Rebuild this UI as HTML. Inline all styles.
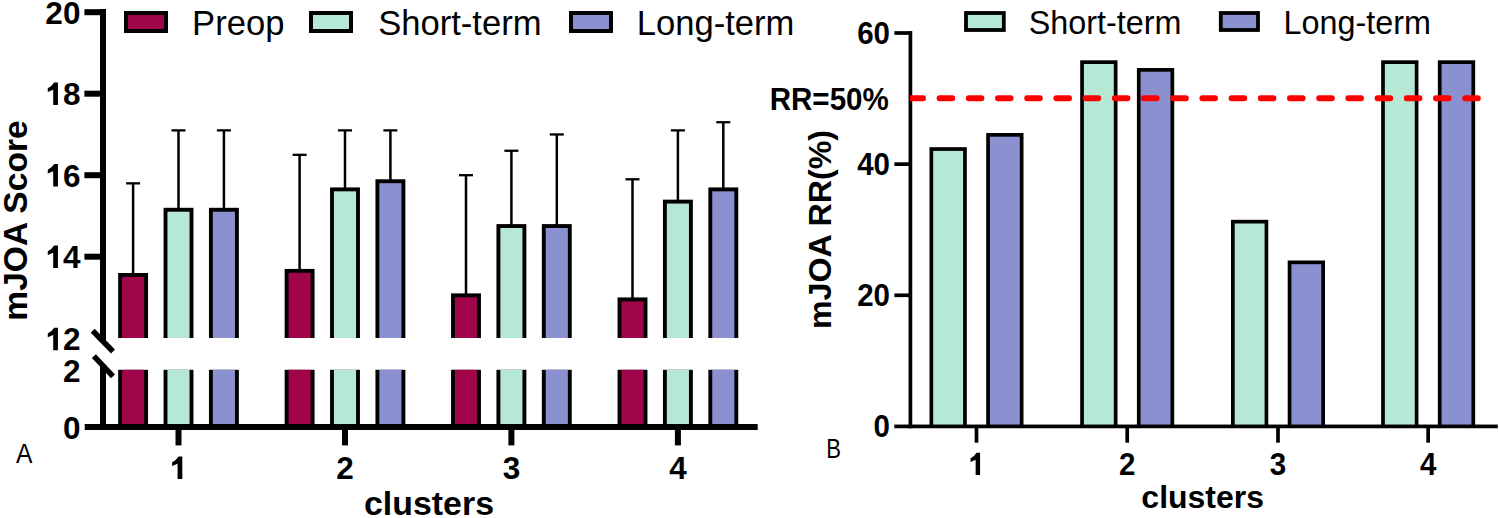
<!DOCTYPE html>
<html><head><meta charset="utf-8"><title>mJOA charts</title>
<style>html,body{margin:0;padding:0;background:#fff;width:1499px;height:518px;overflow:hidden}</style>
</head><body>
<svg width="1499" height="518" viewBox="0 0 1499 518" style="display:block">
<rect width="1499" height="518" fill="#fff"/>
<line x1="133.10" y1="183.35" x2="133.10" y2="275.00" stroke="#000" stroke-width="2.5"/>
<line x1="126.10" y1="183.35" x2="140.10" y2="183.35" stroke="#000" stroke-width="2.3"/>
<rect x="118.15" y="273.00" width="29.90" height="65.00" fill="#000"/>
<rect x="122.05" y="276.90" width="22.10" height="61.10" fill="#A0044B"/>
<rect x="118.15" y="369.80" width="29.90" height="57.40" fill="#000"/>
<rect x="122.05" y="369.80" width="22.10" height="57.40" fill="#A0044B"/>
<line x1="178.50" y1="130.37" x2="178.50" y2="209.80" stroke="#000" stroke-width="2.5"/>
<line x1="171.50" y1="130.37" x2="185.50" y2="130.37" stroke="#000" stroke-width="2.3"/>
<rect x="163.55" y="207.80" width="29.90" height="130.20" fill="#000"/>
<rect x="167.45" y="211.70" width="22.10" height="126.30" fill="#B5E8D5"/>
<rect x="163.55" y="369.80" width="29.90" height="57.40" fill="#000"/>
<rect x="167.45" y="369.80" width="22.10" height="57.40" fill="#B5E8D5"/>
<line x1="223.90" y1="130.37" x2="223.90" y2="209.80" stroke="#000" stroke-width="2.5"/>
<line x1="216.90" y1="130.37" x2="230.90" y2="130.37" stroke="#000" stroke-width="2.3"/>
<rect x="208.95" y="207.80" width="29.90" height="130.20" fill="#000"/>
<rect x="212.85" y="211.70" width="22.10" height="126.30" fill="#8B90D0"/>
<rect x="208.95" y="369.80" width="29.90" height="57.40" fill="#000"/>
<rect x="212.85" y="369.80" width="22.10" height="57.40" fill="#8B90D0"/>
<line x1="299.60" y1="154.82" x2="299.60" y2="270.93" stroke="#000" stroke-width="2.5"/>
<line x1="292.60" y1="154.82" x2="306.60" y2="154.82" stroke="#000" stroke-width="2.3"/>
<rect x="284.65" y="268.93" width="29.90" height="69.07" fill="#000"/>
<rect x="288.55" y="272.82" width="22.10" height="65.17" fill="#A0044B"/>
<rect x="284.65" y="369.80" width="29.90" height="57.40" fill="#000"/>
<rect x="288.55" y="369.80" width="22.10" height="57.40" fill="#A0044B"/>
<line x1="345.00" y1="130.37" x2="345.00" y2="189.43" stroke="#000" stroke-width="2.5"/>
<line x1="338.00" y1="130.37" x2="352.00" y2="130.37" stroke="#000" stroke-width="2.3"/>
<rect x="330.05" y="187.43" width="29.90" height="150.57" fill="#000"/>
<rect x="333.95" y="191.33" width="22.10" height="146.67" fill="#B5E8D5"/>
<rect x="330.05" y="369.80" width="29.90" height="57.40" fill="#000"/>
<rect x="333.95" y="369.80" width="22.10" height="57.40" fill="#B5E8D5"/>
<line x1="390.40" y1="130.37" x2="390.40" y2="181.27" stroke="#000" stroke-width="2.5"/>
<line x1="383.40" y1="130.37" x2="397.40" y2="130.37" stroke="#000" stroke-width="2.3"/>
<rect x="375.45" y="179.27" width="29.90" height="158.73" fill="#000"/>
<rect x="379.35" y="183.17" width="22.10" height="154.83" fill="#8B90D0"/>
<rect x="375.45" y="369.80" width="29.90" height="57.40" fill="#000"/>
<rect x="379.35" y="369.80" width="22.10" height="57.40" fill="#8B90D0"/>
<line x1="466.00" y1="175.20" x2="466.00" y2="295.38" stroke="#000" stroke-width="2.5"/>
<line x1="459.00" y1="175.20" x2="473.00" y2="175.20" stroke="#000" stroke-width="2.3"/>
<rect x="451.05" y="293.38" width="29.90" height="44.62" fill="#000"/>
<rect x="454.95" y="297.27" width="22.10" height="40.73" fill="#A0044B"/>
<rect x="451.05" y="369.80" width="29.90" height="57.40" fill="#000"/>
<rect x="454.95" y="369.80" width="22.10" height="57.40" fill="#A0044B"/>
<line x1="511.40" y1="150.75" x2="511.40" y2="226.10" stroke="#000" stroke-width="2.5"/>
<line x1="504.40" y1="150.75" x2="518.40" y2="150.75" stroke="#000" stroke-width="2.3"/>
<rect x="496.45" y="224.10" width="29.90" height="113.90" fill="#000"/>
<rect x="500.35" y="228.00" width="22.10" height="110.00" fill="#B5E8D5"/>
<rect x="496.45" y="369.80" width="29.90" height="57.40" fill="#000"/>
<rect x="500.35" y="369.80" width="22.10" height="57.40" fill="#B5E8D5"/>
<line x1="556.80" y1="134.45" x2="556.80" y2="226.10" stroke="#000" stroke-width="2.5"/>
<line x1="549.80" y1="134.45" x2="563.80" y2="134.45" stroke="#000" stroke-width="2.3"/>
<rect x="541.85" y="224.10" width="29.90" height="113.90" fill="#000"/>
<rect x="545.75" y="228.00" width="22.10" height="110.00" fill="#8B90D0"/>
<rect x="541.85" y="369.80" width="29.90" height="57.40" fill="#000"/>
<rect x="545.75" y="369.80" width="22.10" height="57.40" fill="#8B90D0"/>
<line x1="632.50" y1="179.27" x2="632.50" y2="299.45" stroke="#000" stroke-width="2.5"/>
<line x1="625.50" y1="179.27" x2="639.50" y2="179.27" stroke="#000" stroke-width="2.3"/>
<rect x="617.55" y="297.45" width="29.90" height="40.55" fill="#000"/>
<rect x="621.45" y="301.35" width="22.10" height="36.65" fill="#A0044B"/>
<rect x="617.55" y="369.80" width="29.90" height="57.40" fill="#000"/>
<rect x="621.45" y="369.80" width="22.10" height="57.40" fill="#A0044B"/>
<line x1="677.90" y1="130.37" x2="677.90" y2="201.65" stroke="#000" stroke-width="2.5"/>
<line x1="670.90" y1="130.37" x2="684.90" y2="130.37" stroke="#000" stroke-width="2.3"/>
<rect x="662.95" y="199.65" width="29.90" height="138.35" fill="#000"/>
<rect x="666.85" y="203.55" width="22.10" height="134.45" fill="#B5E8D5"/>
<rect x="662.95" y="369.80" width="29.90" height="57.40" fill="#000"/>
<rect x="666.85" y="369.80" width="22.10" height="57.40" fill="#B5E8D5"/>
<line x1="723.30" y1="122.22" x2="723.30" y2="189.43" stroke="#000" stroke-width="2.5"/>
<line x1="716.30" y1="122.22" x2="730.30" y2="122.22" stroke="#000" stroke-width="2.3"/>
<rect x="708.35" y="187.43" width="29.90" height="150.57" fill="#000"/>
<rect x="712.25" y="191.33" width="22.10" height="146.67" fill="#8B90D0"/>
<rect x="708.35" y="369.80" width="29.90" height="57.40" fill="#000"/>
<rect x="712.25" y="369.80" width="22.10" height="57.40" fill="#8B90D0"/>
<rect x="100.0" y="9" width="6.0" height="331" fill="#000"/>
<rect x="100.0" y="366" width="6.0" height="64" fill="#000"/>
<line x1="92.7" y1="330.8" x2="113" y2="351.5" stroke="#000" stroke-width="5.5"/>
<line x1="93.9" y1="356.1" x2="113" y2="376.4" stroke="#000" stroke-width="5.5"/>
<rect x="84.4" y="9.20" width="18.60" height="6" fill="#000"/>
<rect x="84.4" y="90.70" width="18.60" height="6" fill="#000"/>
<rect x="84.4" y="172.20" width="18.60" height="6" fill="#000"/>
<rect x="84.4" y="253.70" width="18.60" height="6" fill="#000"/>
<rect x="84.7" y="424" width="673.0" height="6" fill="#000"/>
<rect x="175.50" y="428" width="6" height="17.399999999999977" fill="#000"/>
<rect x="342.00" y="428" width="6" height="17.399999999999977" fill="#000"/>
<rect x="508.40" y="428" width="6" height="17.399999999999977" fill="#000"/>
<rect x="674.90" y="428" width="6" height="17.399999999999977" fill="#000"/>
<text x="45.36" y="23.50" font-family='"Liberation Sans", sans-serif' font-weight="bold" font-size="31.5">2</text>
<text x="62.88" y="23.50" font-family='"Liberation Sans", sans-serif' font-weight="bold" font-size="31.5">0</text>
<path transform="translate(45.36 105.00) scale(31.5 31.500)" d="M0.399 0L0.249 0L0.249 -0.488L0.077 -0.415L0.077 -0.535Q0.2 -0.59 0.279 -0.717L0.399 -0.717Z" fill="#000"/>
<text x="62.88" y="105.00" font-family='"Liberation Sans", sans-serif' font-weight="bold" font-size="31.5">8</text>
<path transform="translate(45.36 186.50) scale(31.5 31.500)" d="M0.399 0L0.249 0L0.249 -0.488L0.077 -0.415L0.077 -0.535Q0.2 -0.59 0.279 -0.717L0.399 -0.717Z" fill="#000"/>
<text x="62.88" y="186.50" font-family='"Liberation Sans", sans-serif' font-weight="bold" font-size="31.5">6</text>
<path transform="translate(45.36 268.00) scale(31.5 31.500)" d="M0.399 0L0.249 0L0.249 -0.488L0.077 -0.415L0.077 -0.535Q0.2 -0.59 0.279 -0.717L0.399 -0.717Z" fill="#000"/>
<text x="62.88" y="268.00" font-family='"Liberation Sans", sans-serif' font-weight="bold" font-size="31.5">4</text>
<path transform="translate(45.36 350.30) scale(31.5 31.500)" d="M0.399 0L0.249 0L0.249 -0.488L0.077 -0.415L0.077 -0.535Q0.2 -0.59 0.279 -0.717L0.399 -0.717Z" fill="#000"/>
<text x="62.88" y="350.30" font-family='"Liberation Sans", sans-serif' font-weight="bold" font-size="31.5">2</text>
<text x="62.88" y="382.30" font-family='"Liberation Sans", sans-serif' font-weight="bold" font-size="31.5">2</text>
<text x="62.88" y="438.80" font-family='"Liberation Sans", sans-serif' font-weight="bold" font-size="31.5">0</text>
<path transform="translate(169.74 479.00) scale(31.5 31.500)" d="M0.399 0L0.249 0L0.249 -0.488L0.077 -0.415L0.077 -0.535Q0.2 -0.59 0.279 -0.717L0.399 -0.717Z" fill="#000"/>
<text x="336.24" y="479.00" font-family='"Liberation Sans", sans-serif' font-weight="bold" font-size="31.5">2</text>
<text x="502.64" y="479.00" font-family='"Liberation Sans", sans-serif' font-weight="bold" font-size="31.5">3</text>
<text x="669.14" y="479.00" font-family='"Liberation Sans", sans-serif' font-weight="bold" font-size="31.5">4</text>
<text x="429" y="514.5" text-anchor="middle" font-family='"Liberation Sans", sans-serif' font-weight="bold" font-size="33.9">clusters</text>
<text transform="translate(27 220.5) rotate(-90)" text-anchor="middle" font-family='"Liberation Sans", sans-serif' font-weight="bold" font-size="33.6">mJOA Score</text>
<text transform="translate(16.1 462.8) scale(0.88 1)" font-family='"Liberation Sans", sans-serif' font-size="28">A</text>
<rect x="126" y="13" width="40" height="18" fill="#A0044B" stroke="#000" stroke-width="4"/>
<text x="192.1" y="35" font-family='"Liberation Sans", sans-serif' font-size="34.6">Preop</text>
<rect x="311" y="13" width="40" height="18" fill="#B5E8D5" stroke="#000" stroke-width="4"/>
<text x="378.2" y="35" font-family='"Liberation Sans", sans-serif' font-size="34.6">Short-term</text>
<rect x="571" y="13" width="40" height="18" fill="#8B90D0" stroke="#000" stroke-width="4"/>
<text x="636.8" y="35" font-family='"Liberation Sans", sans-serif' font-size="34.6">Long-term</text>
<rect x="929.50" y="147.20" width="37.30" height="279.20" fill="#000"/>
<rect x="933.20" y="150.90" width="29.90" height="275.50" fill="#B5E8D5"/>
<rect x="986.20" y="133.00" width="37.30" height="293.40" fill="#000"/>
<rect x="989.90" y="136.70" width="29.90" height="289.70" fill="#8B90D0"/>
<rect x="1080.20" y="60.30" width="37.30" height="366.10" fill="#000"/>
<rect x="1083.90" y="64.00" width="29.90" height="362.40" fill="#B5E8D5"/>
<rect x="1136.90" y="68.00" width="37.30" height="358.40" fill="#000"/>
<rect x="1140.60" y="71.70" width="29.90" height="354.70" fill="#8B90D0"/>
<rect x="1231.00" y="219.80" width="37.30" height="206.60" fill="#000"/>
<rect x="1234.70" y="223.50" width="29.90" height="202.90" fill="#B5E8D5"/>
<rect x="1287.70" y="260.50" width="37.30" height="165.90" fill="#000"/>
<rect x="1291.40" y="264.20" width="29.90" height="162.20" fill="#8B90D0"/>
<rect x="1381.15" y="60.30" width="37.30" height="366.10" fill="#000"/>
<rect x="1384.85" y="64.00" width="29.90" height="362.40" fill="#B5E8D5"/>
<rect x="1437.85" y="60.30" width="37.30" height="366.10" fill="#000"/>
<rect x="1441.55" y="64.00" width="29.90" height="362.40" fill="#8B90D0"/>
<rect x="908.55" y="31.1" width="3.7" height="397.20" fill="#000"/>
<rect x="894.4" y="31.15" width="16.00" height="3.7" fill="#000"/>
<rect x="894.4" y="162.29" width="16.00" height="3.7" fill="#000"/>
<rect x="894.4" y="293.43" width="16.00" height="3.7" fill="#000"/>
<rect x="894.3" y="424.55" width="603.50" height="3.7" fill="#000"/>
<rect x="974.65" y="426.40" width="3.7" height="16.30" fill="#000"/>
<rect x="1125.35" y="426.40" width="3.7" height="16.30" fill="#000"/>
<rect x="1276.15" y="426.40" width="3.7" height="16.30" fill="#000"/>
<rect x="1426.30" y="426.40" width="3.7" height="16.30" fill="#000"/>
<clipPath id="rc"><rect x="910.1" y="80" width="600" height="40"/></clipPath>
<line clip-path="url(#rc)" x1="910.4" y1="98.3" x2="1481.2" y2="98.3" stroke="#FF0000" stroke-width="6.0" stroke-linecap="round" stroke-dasharray="12.6 16.6"/>
<text transform="translate(857.19 43.60) scale(1 1.05)" font-family='"Liberation Sans", sans-serif' font-weight="bold" font-size="29.5">6</text>
<text transform="translate(873.59 43.60) scale(1 1.05)" font-family='"Liberation Sans", sans-serif' font-weight="bold" font-size="29.5">0</text>
<text transform="translate(857.19 174.74) scale(1 1.05)" font-family='"Liberation Sans", sans-serif' font-weight="bold" font-size="29.5">4</text>
<text transform="translate(873.59 174.74) scale(1 1.05)" font-family='"Liberation Sans", sans-serif' font-weight="bold" font-size="29.5">0</text>
<text transform="translate(857.19 305.88) scale(1 1.05)" font-family='"Liberation Sans", sans-serif' font-weight="bold" font-size="29.5">2</text>
<text transform="translate(873.59 305.88) scale(1 1.05)" font-family='"Liberation Sans", sans-serif' font-weight="bold" font-size="29.5">0</text>
<text transform="translate(873.59 437.00) scale(1 1.05)" font-family='"Liberation Sans", sans-serif' font-weight="bold" font-size="29.5">0</text>
<path transform="translate(968.30 474.90) scale(29.5 30.975)" d="M0.399 0L0.249 0L0.249 -0.488L0.077 -0.415L0.077 -0.535Q0.2 -0.59 0.279 -0.717L0.399 -0.717Z" fill="#000"/>
<text transform="translate(1119.00 474.90) scale(1 1.05)" font-family='"Liberation Sans", sans-serif' font-weight="bold" font-size="29.5">2</text>
<text transform="translate(1269.80 474.90) scale(1 1.05)" font-family='"Liberation Sans", sans-serif' font-weight="bold" font-size="29.5">3</text>
<text transform="translate(1419.95 474.90) scale(1 1.05)" font-family='"Liberation Sans", sans-serif' font-weight="bold" font-size="29.5">4</text>
<text x="1202.7" y="507.8" text-anchor="middle" font-family='"Liberation Sans", sans-serif' font-weight="bold" font-size="32">clusters</text>
<text transform="translate(831 229.5) rotate(-90)" text-anchor="middle" font-family='"Liberation Sans", sans-serif' font-weight="bold" font-size="32.2">mJOA RR(%)</text>
<text transform="translate(826.3 457.9) scale(0.82 1)" font-family='"Liberation Sans", sans-serif' font-size="27">B</text>
<text transform="translate(888.8 109.6) scale(0.933 1)" text-anchor="end" font-family='"Liberation Sans", sans-serif' font-weight="bold" font-size="31.7">RR=50%</text>
<rect x="966" y="13" width="37.8" height="17" fill="#B5E8D5" stroke="#000" stroke-width="3.8"/>
<text x="1028.7" y="34" font-family='"Liberation Sans", sans-serif' font-size="32.35">Short-term</text>
<rect x="1220.8" y="13" width="37.2" height="17" fill="#8B90D0" stroke="#000" stroke-width="3.8"/>
<text x="1283.5" y="34" font-family='"Liberation Sans", sans-serif' font-size="32.35">Long-term</text>
</svg>
</body></html>
